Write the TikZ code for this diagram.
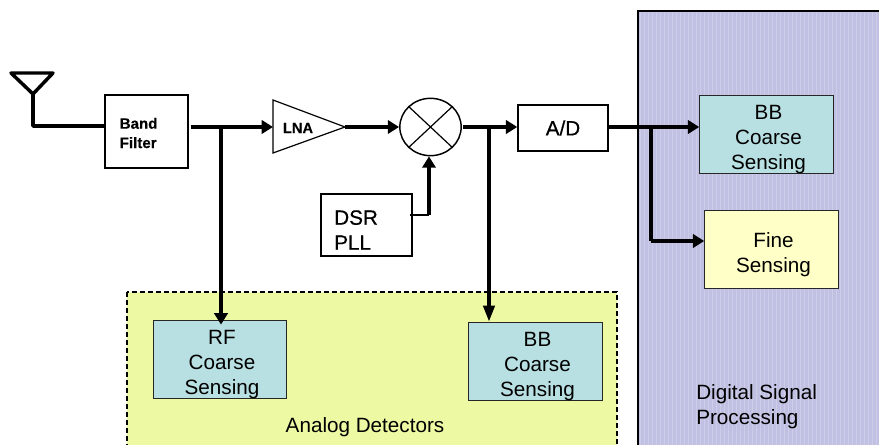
\documentclass[tikz,border=0pt]{standalone}
\usepackage{fontspec}
\setmainfont{Liberation Sans}
\newfontfamily\heavyfont[FakeBold=0.5]{Liberation Sans}
\usetikzlibrary{arrows.meta,shapes.geometric,calc}
\definecolor{dspblue}{HTML}{C0C0E2}
\definecolor{dspgrid}{HTML}{CDCDEA}
\definecolor{analoggreen}{HTML}{EEF9A4}
\definecolor{coarseblue}{HTML}{B8DFE2}
\definecolor{fineyellow}{HTML}{FFFFC8}
\tikzset{
    block/.style={draw,line width=1.1pt,inner sep=0pt},
    sensing/.style={draw=black!85,line width=0.9pt,inner sep=0pt,
        minimum width=100pt,minimum height=59pt},
    sensetext/.style={inner sep=0pt,align=center,font=\fontsize{15.5}{18.75}\selectfont},
    wire/.style={line width=2.5pt,-{Triangle[length=8.5pt,width=10pt]}},
    longwire/.style={line width=2.5pt,-{Triangle[length=12pt,width=8.5pt]}},
    thinwire/.style={line width=1pt},
    caption/.style={font=\fontsize{15.5}{18.75}\selectfont,align=left,inner sep=0pt}
}
\begin{document}
\begin{tikzpicture}[x=0.75pt,y=-0.75pt]
    \useasboundingbox (0,0) rectangle (879,445);

    % regions
    \fill[dspblue] (638,11) rectangle (890,455);
    \draw[dspgrid,line width=0.3pt,step=4] (638,11) grid (890,455);
    \draw[line width=0.9pt] (638,455) -- (638,11) -- (890,11);
    \draw[fill=analoggreen,line width=0.8pt,dash pattern=on 3.5pt off 2.5pt] (127,292) rectangle (617,455);
    \node[caption] (analog) at (365,427) {Analog Detectors};
    \node[caption,anchor=west] (dsp) at (696,407) {Digital Signal\\Processing};

    % blocks in the chain
    \node[block,minimum width=62pt,minimum height=55pt] (filter) at (146.5,131.5) {};
    \node[inner sep=0pt,align=left,anchor=west,font=\bfseries\addfontfeature{FakeBold=0.4}\fontsize{11.3}{14.5}\selectfont]
        (filtertext) at (119.5,133) {Band\\Filter};
    \node[font=\bfseries\addfontfeature{FakeBold=0.3}\fontsize{11}{12}\selectfont,inner sep=0pt] (lna) at (298,128) {LNA};
    \coordinate (LT) at (273,100);
    \coordinate (LB) at (273,153);
    \coordinate (LO) at (345,127);
    \coordinate (LI) at (273,127);
    \draw[line width=0.9pt] (LT) -- (LO) -- (LB) -- cycle;
    \node[draw,ellipse,line width=1.1pt,inner sep=0pt,minimum width=46pt,minimum height=43pt]
        (mixer) at (430.5,127) {};
    \draw[line width=0.9pt] (mixer.north west) -- (mixer.south east);
    \draw[line width=0.9pt] (mixer.north east) -- (mixer.south west);
    \node[block,minimum width=67.5pt,minimum height=34.5pt,
        font=\heavyfont\fontsize{15.5}{18}\selectfont] (ad) at (563,128) {A/D};
    \node[block,minimum width=68pt,minimum height=46.5pt] (pll) at (366.5,225) {};
    \node[inner sep=0pt,align=left,anchor=west,font=\heavyfont\fontsize{15.5}{18.75}\selectfont]
        (plltext) at (334,230) {DSR\\PLL};

    % sensing blocks
    \foreach \v/\x/\y/\c/\t in {
        rf/220/359.5/coarseblue/RF\\Coarse\\Sensing,
        bba/535.5/361.5/coarseblue/BB\\Coarse\\Sensing,
        bbd/766.5/134.5/coarseblue/BB\\Coarse\\Sensing,
        fine/771.5/249.5/fineyellow/Fine\\Sensing}
    {
        \node[sensing,fill=\c] (\v) at (\x,\y) {};
        \node[sensetext] (\v text) at ($(\v)+(2,5)$) {\t};
    };

    % antenna
    \coordinate (AL) at (11,73);
    \coordinate (AR) at (53,73);
    \coordinate (AT) at (33,94);
    \coordinate (AB) at (33,126);
    \draw[line width=2.6pt,line join=round] (AL) -- (AR) -- (AT) -- cycle;
    \draw[line width=2.6pt,line join=round] (AT) -- (AB) -- (AB -| filter.west);

    % connections
    \coordinate (F) at (191,127);
    \coordinate (M) at (463,127);
    \coordinate (D) at (608,127);
    \coordinate (RT) at (221,127);
    \coordinate (BT) at (489,127);
    \coordinate (DT) at (651,127);
    \coordinate (FT) at (651,241);
    \coordinate (PE) at (410,215);
    \coordinate (PC) at (429,215);
    \draw[wire] (F) -- (LI);
    \draw[wire] (LO) -- (mixer.west);
    \draw[wire] (M) -- (M -| ad.west);
    \draw[wire] (D) -- (D -| bbd.west);
    \draw[wire] (RT) -- ($(RT |- rf.north)+(0,5)$);
    \draw[longwire] (BT) -- (BT |- bba.north);
    \draw[line width=3pt] (DT) -- (FT);
    \draw[wire] (FT) -- (FT -| fine.west);
    \draw[thinwire] (PE) -- (PC);
    \draw[wire] (PC) -- (PC |- mixer.south);
\end{tikzpicture}
\end{document}
